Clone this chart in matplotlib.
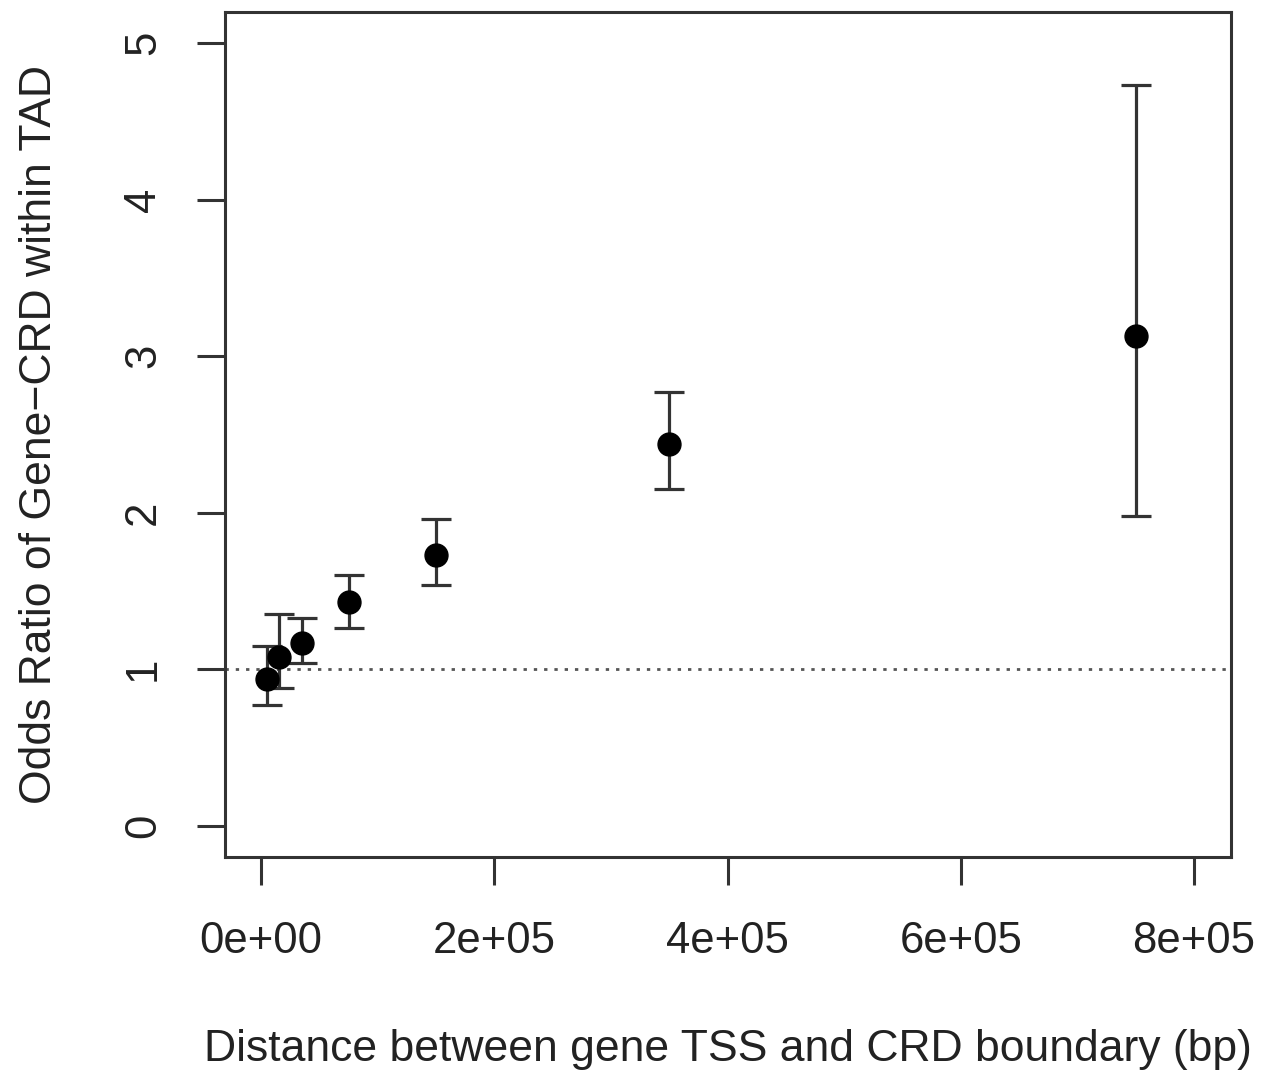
import matplotlib
matplotlib.use("Agg")
import matplotlib.pyplot as plt

# Odds ratio by distance bin
distance = [5000, 15000, 35000, 75000, 150000, 350000, 750000]
odds_ratio = [0.94, 1.08, 1.17, 1.43, 1.73, 2.44, 3.13]
ci_low = [0.77, 0.88, 1.04, 1.26, 1.54, 2.15, 1.98]
ci_high = [1.15, 1.35, 1.33, 1.60, 1.96, 2.77, 4.73]

xticks = [0, 200000, 400000, 600000, 800000]
xticklabels = ["0e+00", "2e+05", "4e+05", "6e+05", "8e+05"]
yticks = [0, 1, 2, 3, 4, 5]

plt.rcParams['font.family'] = ['Liberation Sans', 'DejaVu Sans']

fig = plt.figure(figsize=(12.64, 10.72), dpi=100)
ax = fig.add_axes([0.178, 0.2006, 0.796, 0.7883])

yerr = [[o - l for o, l in zip(odds_ratio, ci_low)],
        [h - o for o, h in zip(odds_ratio, ci_high)]]
ax.errorbar(distance, odds_ratio, yerr=yerr, fmt='o', color='black',
            ecolor='#333333', elinewidth=2.3, capsize=11, capthick=2.3,
            markersize=16.5, zorder=3)

ax.axhline(1, color='#555555', linestyle=(0, (1.2, 2.5)), linewidth=2, zorder=1)

ax.set_xlim(-30900, 831800)
ax.set_ylim(-0.2, 5.2)
ax.set_xticks(xticks)
ax.set_xticklabels(xticklabels)
ax.set_yticks(yticks)
ax.set_yticklabels([str(t) for t in yticks], rotation=90, va='center')

for s in ax.spines.values():
    s.set_linewidth(2.2)
    s.set_color('#333333')
ax.tick_params(axis='both', length=20, width=2.2, color='#333333',
               labelsize=31.5, labelcolor='#222222')
ax.tick_params(axis='x', pad=26)
ax.tick_params(axis='y', pad=24)

ax.set_xlabel("Distance between gene TSS and CRD boundary (bp)",
              fontsize=32, color='#222222', labelpad=48)
ax.set_ylabel("Odds Ratio of Gene\u2212CRD within TAD",
              fontsize=32, color='#222222', labelpad=45)

fig.savefig("out.png", dpi=100, facecolor='white')
